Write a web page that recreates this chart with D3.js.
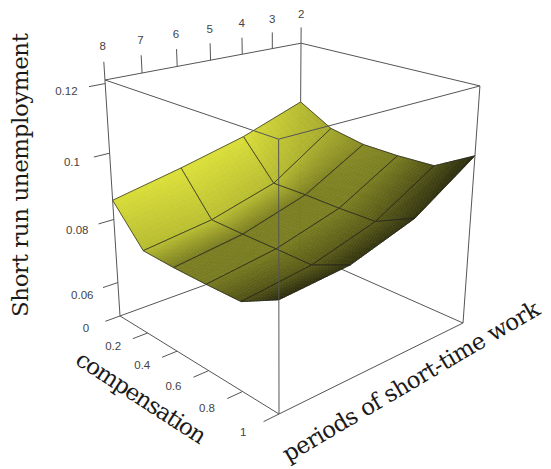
<!DOCTYPE html>
<html>
<head>
    <title>Short run unemployment surface</title>
    <meta charset="utf-8">
    <script src="https://cdnjs.cloudflare.com/ajax/libs/d3/7.8.5/d3.min.js" charset="utf-8"></script>
    <style>
        html, body {
            margin: 0px;
            padding: 0px;
            background: #fff;
        }
        svg {
            display: block;
        }
        text.tick {
            font: 11.5px "Liberation Sans", Arial, sans-serif;
            fill: #444;
        }
    </style>
</head>
<body>

<svg id="chart" width="551" height="469"></svg>

<script>

    // values: one array per number of periods,
    // one entry per compensation level
    var periods = [2, 4, 6, 8];
    var compensation = [0, 0.2, 0.4, 0.6, 0.8, 1];
    var unempPeriods2 = [0.1017, 0.0960, 0.0941, 0.0940, 0.0945, 0.1011];
    var unempPeriods4 = [0.0949, 0.0833, 0.0835, 0.0834, 0.0836, 0.0889];
    var unempPeriods6 = [0.0901, 0.0777, 0.0776, 0.0777, 0.0777, 0.0826];
    var unempPeriods8 = [0.0859, 0.0749, 0.0746, 0.0747, 0.0750, 0.0808];

    var periodTicks = [2, 3, 4, 5, 6, 7, 8];
    var compTicks = [0, 0.2, 0.4, 0.6, 0.8, 1];
    var unempTicks = [0.06, 0.08, 0.1, 0.12];

    var unemp = [unempPeriods2, unempPeriods4, unempPeriods6, unempPeriods8];

    var svg = d3.select("#chart");

    // data -> unit box coordinates
    var tScale = d3.scaleLinear().domain([8, 2]).range([0, 1]);        // periods
    var sScale = d3.scaleLinear().domain([0, 1]).range([0, 1]);        // compensation
    var hScale = d3.scaleLinear().domain([0.049, 0.121]).range([0, 1]); // unemployment

    // perspective view of the unit box, rows are (1, s, t, h)
    var view = {
        x: [142.8, 136.2, 268.3, -28.5],
        y: [376.0, 38.0, -32.2, -288.9],
        w: [1.19, -0.19, 0.182, -0.101]
    };
    function lin(r, s, t, h) { return r[0] + r[1] * s + r[2] * t + r[3] * h; }
    function project(s, t, h) {
        var w = lin(view.w, s, t, h);
        return [lin(view.x, s, t, h) / w, lin(view.y, s, t, h) / w, w];
    }

    var line = d3.line();
    function seg(a, b) {
        var p = project(a[0], a[1], a[2]), q = project(b[0], b[1], b[2]);
        return line([[p[0], p[1]], [q[0], q[1]]]);
    }

    // box corners (s, t, h)
    var A = [0, 0, 1], B = [0, 1, 1], C = [1, 1, 1], D = [1, 0, 1];
    var A0 = [0, 0, 0], B0 = [0, 1, 0], C0 = [1, 1, 0], D0 = [1, 0, 0];
    var backEdges = [[B, B0], [A0, B0], [B0, C0], [A, B], [B, C]];
    var frontEdges = [[A, D], [D, C], [D, D0], [A, A0], [C, C0], [A0, D0], [D0, C0]];

    var gBack = svg.append("g");
    var gSurf = svg.append("g");
    var gFront = svg.append("g");
    var gAxes = svg.append("g");

    gBack.selectAll("path").data(backEdges).enter().append("path")
        .attr("d", function (e) { return seg(e[0], e[1]); })
        .attr("stroke", "#555").attr("stroke-width", 1).attr("fill", "none");

    // ---- surface ----
    var ts = periods.map(tScale), ss = compensation.map(sScale);
    var H = unemp.map(function (row) { return row.map(hScale); });
    var ni = periods.length, nj = compensation.length;

    function dd(vals, coords, k) {
        var a = Math.max(0, k - 1), b = Math.min(coords.length - 1, k + 1);
        return (vals(b) - vals(a)) / (coords[b] - coords[a]);
    }
    var light = (function (v) {
        var l = Math.hypot(v[0], v[1], v[2]);
        return v.map(function (c) { return c / l; });
    })([0.94, -0.15, 0.32]);

    // smooth shading from vertex normals
    var inten = H.map(function (row, i) {
        return row.map(function (h, j) {
            var dhds = dd(function (k) { return H[i][k]; }, ss, j);
            var dhdt = dd(function (k) { return H[k][j]; }, ts, i);
            var n = [-dhds, -dhdt, 1], l = Math.hypot(n[0], n[1], n[2]);
            var d = (n[0] * light[0] + n[1] * light[1] + n[2] * light[2]) / l;
            return 0.19 + 0.93 * Math.pow(Math.max(0, d), 0.85);
        });
    });

    var base = d3.rgb(218, 223, 58);
    function col(I) {
        I = Math.max(0.15, Math.min(1, I));
        return d3.rgb(base.r * I, base.g * I, base.b * I).toString();
    }

    var cells = [];
    for (var i = 0; i < ni - 1; i++) {
        for (var j = 0; j < nj - 1; j++) {
            var corners = [[i, j], [i + 1, j], [i + 1, j + 1], [i, j + 1]];
            var depth = d3.mean(corners, function (c) {
                return project(ss[c[1]], ts[c[0]], H[c[0]][c[1]])[2];
            });
            cells.push({i: i, j: j, depth: depth});
        }
    }
    cells.sort(function (a, b) { return b.depth - a.depth; });

    var N = 12;
    cells.forEach(function (c) {
        var g = gSurf.append("g");
        function at(u, v) {  // u along compensation, v along periods
            var i = c.i, j = c.j;
            function bl(f) {
                return (1 - u) * (1 - v) * f(i, j) + u * (1 - v) * f(i, j + 1) +
                       u * v * f(i + 1, j + 1) + (1 - u) * v * f(i + 1, j);
            }
            var s = bl(function (a, b) { return ss[b]; });
            var t = bl(function (a, b) { return ts[a]; });
            var h = bl(function (a, b) { return H[a][b]; });
            var I = bl(function (a, b) { return inten[a][b]; });
            var p = project(s, t, h);
            return {p: [p[0], p[1]], I: I};
        }
        var pts = [];
        for (var a = 0; a <= N; a++) {
            pts.push([]);
            for (var b = 0; b <= N; b++) pts[a].push(at(a / N, b / N));
        }
        var quads = [];
        for (var a = 0; a < N; a++) {
            for (var b = 0; b < N; b++) {
                var q = [pts[a][b], pts[a + 1][b], pts[a + 1][b + 1], pts[a][b + 1]];
                quads.push({poly: q.map(function (o) { return o.p; }),
                            I: d3.mean(q, function (o) { return o.I; })});
            }
        }
        g.selectAll("path.f").data(quads).enter().append("path")
            .attr("class", "f")
            .attr("d", function (q) { return line(q.poly) + "Z"; })
            .attr("fill", function (q) { return col(q.I); })
            .attr("stroke", function (q) { return col(q.I); })
            .attr("stroke-width", 0.6);
        var outline = [pts[0][0], pts[N][0], pts[N][N], pts[0][N]].map(function (o) { return o.p; });
        g.append("path")
            .attr("d", line(outline) + "Z")
            .attr("fill", "none")
            .attr("stroke", "#222")
            .attr("stroke-width", 0.7)
            .attr("stroke-linejoin", "round");
    });

    gFront.selectAll("path").data(frontEdges).enter().append("path")
        .attr("d", function (e) { return seg(e[0], e[1]); })
        .attr("stroke", "#555").attr("stroke-width", 1).attr("fill", "none");

    // ---- axes ----
    function tick(g, a, b, lab, text) {
        g.append("path").attr("d", seg(a, b))
            .attr("stroke", "#555").attr("stroke-width", 1);
        var p = project(lab[0], lab[1], lab[2]);
        g.append("text").attr("class", "tick")
            .attr("x", p[0]).attr("y", p[1])
            .attr("text-anchor", "middle")
            .attr("dominant-baseline", "central")
            .text(text);
    }
    periodTicks.forEach(function (v) {
        var t = tScale(v);
        tick(gAxes, [0, t, 1], [0, t, 1.07], [0, t, 1.13], v);
    });
    compTicks.forEach(function (v) {
        var s = sScale(v);
        tick(gAxes, [s, 0, 0], [s, -0.07, 0], [s, -0.16, 0], v);
    });
    unempTicks.forEach(function (v) {
        var h = hScale(v);
        tick(gAxes, [0, 0, h], [0, -0.07, h], [0, -0.165, h], v);
    });

    // ---- titles ----
    function title(x, y, angle, len, text) {
        svg.append("text")
            .attr("transform", "translate(" + x + "," + y + ") rotate(" + angle + ")")
            .attr("text-anchor", "middle")
            .style("font-family", "'DejaVu Serif', 'Liberation Serif', serif")
            .style("font-size", "23px")
            .style("fill", "#1a1a1a")
            .attr("textLength", len)
            .attr("lengthAdjust", "spacing")
            .text(text);
    }
    title(28, 175, -90, 284, "Short run unemployment");
    title(137, 404, 33, 150, "compensation");
    title(415, 388, -30.5, 294, "periods of short-time work");

</script>
</body>
</html>
